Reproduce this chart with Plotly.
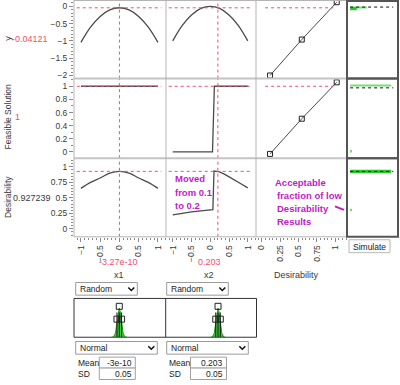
import plotly.graph_objects as go

W, H = 400, 385
def px(x): return x / W
def py(y): return 1 - y / H

# ---------------- data ----------------
x1_now = -3.27e-10
x2_now = 0.203
y_now = -0.04121
feas_now = 1
des_now = 0.927239

x_grid = [-1, -0.75, -0.5, -0.25, 0, 0.25, 0.5, 0.75, 1]
y_vs_x1 = [-1.04, -0.60, -0.29, -0.10, -0.04, -0.10, -0.29, -0.60, -1.04]
y_vs_x2 = [-1.0, -0.56, -0.25, -0.06, 0.0, -0.06, -0.25, -0.56, -1.0]

feas_x1_x = [-1, 1]
feas_vs_x1 = [1, 1]
feas_x2_x = [-1, 0.06, 0.11, 1]
feas_vs_x2 = [0, 0, 1, 1]

des_vs_x1 = [0.653, 0.75, 0.82, 0.90, 0.927, 0.90, 0.82, 0.75, 0.653]
des_x2_x = [-1, -0.75, -0.5, -0.25, 0, 0.07, 0.1, 0.25, 0.4, 0.55, 0.7, 0.85, 1]
des_vs_x2 = [0.225, 0.255, 0.275, 0.29, 0.302, 0.31, 0.932, 0.92, 0.875, 0.825, 0.77, 0.715, 0.66]

dfun_d = [0.113, 0.545, 1.02]
dfun_y = [-2.0, -0.96, 0.12]
dfun_feas = [-0.03, 0.506, 1.06]

# simulated histograms (horizontal)
sim_y_bins = [-0.03, -0.07]
sim_y_len = [0.35, 0.14]
sim_f_bins = [1.01, 0.015]
sim_f_len = [0.86, 0.03]
sim_d_bins = [0.925, 0.31]
sim_d_len = [0.86, 0.03]
sim_ref_y = -0.02
sim_ref_f = 0.976
sim_ref_d = 0.926
sim_ref_len = 0.9

# input distributions
dist_means = [-3.27e-10, 0.203]
dist_off = [-0.2, -0.15, -0.1, -0.05, -0.025, 0, 0.025, 0.05, 0.1, 0.15, 0.2]
dist_h = [0, 0.01, 0.14, 0.61, 0.88, 1.0, 0.88, 0.61, 0.14, 0.01, 0]
dist_quart = [-0.06, 0.06]

RED = '#ef4f6b'
MAG = '#c21bc4'
CURVE = '#4a4a4a'
TXT = '#3a3a3a'
FONT = 'Liberation Sans, Arial, sans-serif'
GREEN = '#2fc12f'
LGREEN = '#78dc78'

fig = go.Figure()
layout = {}

cols_px = [(74, 166), (166, 256), (256, 347), (347, 398)]
rows_px = [(1, 79), (79, 159), (159, 238)]
xr = [[-1.18, 1.21], [-1.18, 1.22], [-0.078, 1.16], [-0.065, 1.0]]
yr = [[-2.09, 0.156], [-0.095, 1.117], [-0.128, 1.14]]

def name(k):
    return ('' if k == 1 else str(k))

for r in range(3):
    for c in range(4):
        k = r * 4 + c + 1
        xa = dict(domain=[px(cols_px[c][0]), px(cols_px[c][1])], range=xr[c],
                  anchor='y' + name(k), showgrid=False, zeroline=False,
                  showticklabels=False, ticks='', fixedrange=True)
        ya = dict(domain=[py(rows_px[r][1]), py(rows_px[r][0])], range=yr[r],
                  anchor='x' + name(k), showgrid=False, zeroline=False,
                  showticklabels=False, ticks='', fixedrange=True)
        if r == 2 and c < 3:
            xa.update(showticklabels=True, ticks='outside', ticklen=4, tickcolor='#8a8a8a',
                      tickangle=-90, tickfont=dict(size=8.5, color=TXT, family=FONT),
                      dtick=0.5 if c < 2 else 0.25, tick0=0,
                      minor=dict(ticks='outside', ticklen=2, tickcolor='#8a8a8a',
                                 dtick=0.1 if c < 2 else 0.05))
        if c == 0:
            ya.update(showticklabels=True, ticks='outside', ticklen=4, tickcolor='#8a8a8a',
                      tickfont=dict(size=8.5, color=TXT, family=FONT),
                      dtick=[0.5, 0.2, 0.25][r], tick0=0,
                      minor=dict(ticks='outside', ticklen=2, tickcolor='#8a8a8a',
                                 dtick=[0.1, 0.1, 0.05][r]))
        layout['xaxis' + name(k)] = xa
        layout['yaxis' + name(k)] = ya

# distribution axes 13, 14
for i, (a, b) in enumerate([(74, 165.7), (165.7, 256.5)]):
    k = 13 + i
    layout['xaxis' + name(k)] = dict(domain=[px(a), px(b)], range=xr[i], anchor='y' + name(k),
                                     visible=False, fixedrange=True)
    layout['yaxis' + name(k)] = dict(domain=[py(339), py(300)], range=[0, 1.33], anchor='x' + name(k),
                                     visible=False, fixedrange=True)

def tr(k, **kw):
    kw.setdefault('showlegend', False)
    kw.setdefault('hoverinfo', 'skip')
    t = go.Scatter(xaxis='x' + name(k), yaxis='y' + name(k), **kw)
    fig.add_trace(t)

line = dict(color=CURVE, width=1.3)
# row 1
tr(1, x=x_grid, y=y_vs_x1, mode='lines', line=dict(color=CURVE, width=1.3, shape='spline'))
tr(2, x=x_grid, y=y_vs_x2, mode='lines', line=dict(color=CURVE, width=1.3, shape='spline'))
tr(3, x=dfun_d, y=dfun_y, mode='lines+markers', line=dict(color=CURVE, width=1),
   marker=dict(symbol='square-open', size=5, color='#222', line=dict(width=1)))
# row 2
tr(5, x=feas_x1_x, y=feas_vs_x1, mode='lines', line=line)
tr(6, x=feas_x2_x, y=feas_vs_x2, mode='lines', line=line)
tr(7, x=dfun_d, y=dfun_feas, mode='lines+markers', line=dict(color=CURVE, width=1),
   marker=dict(symbol='square-open', size=5, color='#222', line=dict(width=1)))
# row 3
tr(9, x=x_grid, y=des_vs_x1, mode='lines', line=dict(color=CURVE, width=1.3, shape='spline'))
tr(10, x=des_x2_x, y=des_vs_x2, mode='lines', line=line)
# empty cell (desirability vs desirability) - invisible points keep its axis drawn
tr(11, x=[0, 1], y=[0, 1], mode='markers', marker=dict(size=1, color='rgba(0,0,0,0)'))

# simulation histograms
def hbars(k, bins, lens, heights, colors):
    fig.add_trace(go.Bar(xaxis='x' + name(k), yaxis='y' + name(k), orientation='h',
                         y=bins, x=lens, width=heights, base=0,
                         marker=dict(color=colors, line=dict(width=0)),
                         showlegend=False, hoverinfo='skip'))

hbars(4, sim_y_bins, sim_y_len, [0.06, 0.09], [LGREEN, GREEN])
hbars(8, sim_f_bins, sim_f_len, [0.02, 0.03], [LGREEN, LGREEN])
hbars(12, sim_d_bins, sim_d_len, [0.053, 0.03], [GREEN, LGREEN])
for k, yv in [(4, sim_ref_y), (8, sim_ref_f), (12, sim_ref_d)]:
    tr(k, x=[0, sim_ref_len], y=[yv, yv], mode='lines', line=dict(color='#111', width=1, dash='dot'))

# input distributions
for i, m in enumerate(dist_means):
    k = 13 + i
    tr(k, x=[m + o for o in dist_off], y=dist_h, mode='lines', fill='tozeroy',
       fillcolor='#3ccf3c', line=dict(color='#1f9a1f', width=1))
    for o in [dist_quart[0], 0, dist_quart[1]]:
        tr(k, x=[m + o, m + o], y=[0, 0.85], mode='lines', line=dict(color='#111', width=1))
    tr(k, x=[m, m + dist_quart[0], m + dist_quart[1]], y=[1.06, 0.62, 0.62], mode='markers',
       marker=dict(symbol='square-open', size=6, color='#222', line=dict(width=1)))

shapes = []
def hline(k, yv, x0=0.03, x1=0.95):
    shapes.append(dict(type='line', xref='x' + name(k) + ' domain', yref='y' + name(k),
                       x0=x0, x1=x1, y0=yv, y1=yv, line=dict(color=RED, width=1, dash='dot')))
def vline(k, xv):
    shapes.append(dict(type='line', xref='x' + name(k), yref='y' + name(k) + ' domain',
                       x0=xv, x1=xv, y0=0, y1=1, line=dict(color=RED, width=1, dash='dot')))
for k in (1, 2):
    hline(k, y_now)
hline(3, y_now, 0.1, 0.85)
for k in (5, 6):
    hline(k, feas_now)
hline(7, feas_now, 0.1, 0.85)
for k in (9, 10):
    hline(k, des_now)
for k in (1, 5, 9):
    vline(k, x1_now)
for k in (2, 6, 10):
    vline(k, x2_now)

def pline(x0, y0, x1, y1, color, width):
    shapes.append(dict(type='line', xref='paper', yref='paper', x0=px(x0), y0=py(y0),
                       x1=px(x1), y1=py(y1), line=dict(color=color, width=width)))
def prect(x0, y0, x1, y1, color, width, fill=None):
    d = dict(type='rect', xref='paper', yref='paper', x0=px(x0), y0=py(y0),
             x1=px(x1), y1=py(y1), line=dict(color=color, width=width))
    if fill:
        d['fillcolor'] = fill
    shapes.append(d)

GRID = '#b4b4b4'
pline(74, 0.5, 347, 0.5, GRID, 1)
pline(74, 79, 347, 79, '#c4c4c4', 2)
pline(74, 159, 347, 159, '#c4c4c4', 2)
pline(74, 238, 347, 238, GRID, 1)
for xv in (74, 166, 256):
    pline(xv, 0, xv, 238, GRID, 1)
for (a, b) in rows_px:
    prect(347, a, 398, b, '#555555', 2)

# magenta arrow stroke
pline(335, 207.5, 344, 211, MAG, 2)

def chevron(cx, cy):
    shapes.append(dict(type='path', xref='paper', yref='paper',
                       path='M %f,%f L %f,%f L %f,%f' % (px(cx - 3), py(cy - 1.5), px(cx), py(cy + 1.5),
                                                          px(cx + 3), py(cy - 1.5)),
                       line=dict(color='#111', width=1.5)))
for (a, b) in [(75.7, 137.3), (166.7, 228.3)]:
    prect(a, 284, b, 296.7, '#9a9a9a', 1, 'white')
    chevron(b - 6, 290.5)
for (a, b) in [(75.7, 157.3), (166.7, 248.3)]:
    prect(a, 343.3, b, 356, '#9a9a9a', 1, 'white')
    chevron(b - 6, 349.5)
prect(74, 300, 256.5, 339, '#333', 1)
pline(165.7, 300, 165.7, 339, '#333', 1)
for a in (99.3, 190.5):
    prect(a, 359, a + 36, 370, '#a0a0a0', 1, 'white')
    prect(a, 370, a + 36, 381.5, '#a0a0a0', 1, 'white')
prect(349, 241, 390, 254, '#b8b8b8', 1, '#fdfdfd')

ann = []
def txt(x, y, s, size=9, color=TXT, xanchor='center', angle=0, bold=False):
    ann.append(dict(x=px(x), y=py(y), xref='paper', yref='paper', text=('<b>%s</b>' % s) if bold else s,
                    showarrow=False, xanchor=xanchor, yanchor='middle', textangle=angle,
                    font=dict(size=size, color=color, family=FONT)))

txt(8, 39, 'y', 9, TXT, angle=-90)
txt(10, 39.5, '-0.04121', 9, RED, xanchor='left')
txt(8, 118, 'Feasible Solution', 8.5, TXT, angle=-90)
txt(17, 118, '1', 9, RED)
txt(8, 198, 'Desirability', 8.5, TXT, angle=-90)
txt(11, 199, '0.927239', 9, TXT, xanchor='left')

txt(118.7, 263.5, '-3.27e-10', 9, RED)
txt(209.3, 263.5, '0.203', 9, RED)
txt(118.7, 276.5, 'x1', 9, TXT)
txt(209.3, 276.5, 'x2', 9, TXT)
txt(296.7, 276.5, 'Desirability', 9, TXT)

for i, s in enumerate(['Moved', 'from 0.1', 'to 0.2']):
    txt(173, 179.5 + 13.7 * i, s, 9.5, MAG, xanchor='left', bold=True)
for i, (s, x0) in enumerate([('Acceptable', 272.5), ('fraction of low', 275), ('Desirability', 275), ('Results', 275)]):
    txt(x0, 183 + 13.3 * i, s, 9.5, MAG, xanchor='left', bold=True)

UI = 8.5
txt(369.5, 247.8, 'Simulate', UI, '#222')
txt(78, 290.5, 'Random', UI, '#222', xanchor='left')
txt(169, 290.5, 'Random', UI, '#222', xanchor='left')
txt(78, 349.8, 'Normal', UI, '#222', xanchor='left')
txt(169, 349.8, 'Normal', UI, '#222', xanchor='left')
txt(75.5, 364.5, 'Mean', UI, '#222', xanchor='left')
txt(75.5, 376, 'SD', UI, '#222', xanchor='left')
txt(166.5, 364.5, 'Mean', UI, '#222', xanchor='left')
txt(166.5, 376, 'SD', UI, '#222', xanchor='left')
txt(134, 364.5, '-3e-10', UI, '#222', xanchor='right')
txt(134, 376, '0.05', UI, '#222', xanchor='right')
txt(225, 364.5, '0.203', UI, '#222', xanchor='right')
txt(225, 376, '0.05', UI, '#222', xanchor='right')

layout.update(width=W, height=H, margin=dict(l=0, r=0, t=0, b=0),
              paper_bgcolor='white', plot_bgcolor='rgba(0,0,0,0)',
              shapes=shapes, annotations=ann, showlegend=False, barmode='overlay',
              font=dict(family=FONT, size=9, color=TXT))
fig.update_layout(layout)
fig.write_html('out.html', config={'displayModeBar': False},
               post_script="document.body.style.margin='0';document.body.style.overflow='hidden';")
